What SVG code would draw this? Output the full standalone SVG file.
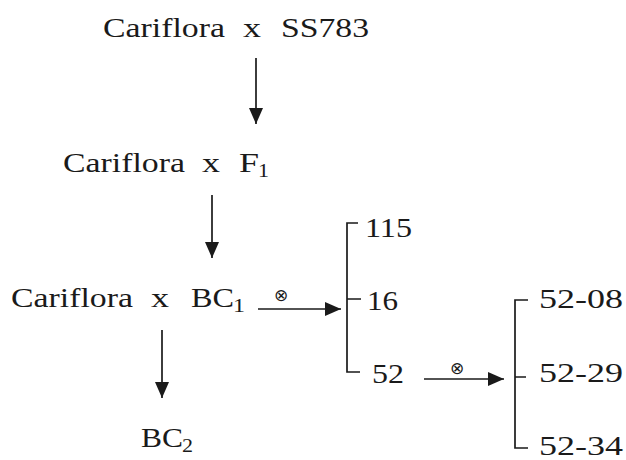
<svg xmlns="http://www.w3.org/2000/svg" width="626" height="460" viewBox="0 0 626 460">
  <style>
    text { font-family: "Liberation Serif", "Times New Roman", Tinos, serif; font-size: 28px; fill: #1a1a1a; }
    text.sub { font-size: 19px; }
    text.self { font-family: "DejaVu Sans", sans-serif; font-size: 17px; text-anchor: middle; }
    .link { stroke: #1a1a1a; stroke-width: 1.7; fill: none; }
  </style>
  <defs>
    <marker id="head" markerUnits="userSpaceOnUse" markerWidth="16" markerHeight="16" viewBox="0 0 16 16" refX="16" refY="8" orient="auto">
      <path d="M0,1 L16,8 L0,15 Z" fill="#1a1a1a"/>
    </marker>
  </defs>
  <rect width="626" height="460" fill="#ffffff"/>

  <g id="cross-ss783">
    <text x="103" y="37" textLength="122" lengthAdjust="spacingAndGlyphs">Cariflora</text>
    <text x="243" y="37" textLength="18" lengthAdjust="spacingAndGlyphs">x</text>
    <text x="281" y="37" textLength="88" lengthAdjust="spacingAndGlyphs">SS783</text>
  </g>
  <g id="cross-f1">
    <text x="63" y="172" textLength="122" lengthAdjust="spacingAndGlyphs">Cariflora</text>
    <text x="202" y="172" textLength="18" lengthAdjust="spacingAndGlyphs">x</text>
    <text x="239" y="172" textLength="20" lengthAdjust="spacingAndGlyphs">F</text>
    <text class="sub" x="258" y="177" textLength="11" lengthAdjust="spacingAndGlyphs">1</text>
  </g>
  <g id="cross-bc1">
    <text x="11" y="307" textLength="122" lengthAdjust="spacingAndGlyphs">Cariflora</text>
    <text x="151" y="307" textLength="18" lengthAdjust="spacingAndGlyphs">x</text>
    <text x="191" y="307" textLength="43" lengthAdjust="spacingAndGlyphs">BC</text>
    <text class="sub" x="233" y="312" textLength="12" lengthAdjust="spacingAndGlyphs">1</text>
  </g>
  <g id="bc2">
    <text x="141" y="447" textLength="42" lengthAdjust="spacingAndGlyphs">BC</text>
    <text class="sub" x="182" y="452" textLength="11" lengthAdjust="spacingAndGlyphs">2</text>
  </g>
  <g id="line-115">
    <text x="365" y="237" textLength="47" lengthAdjust="spacingAndGlyphs">115</text>
  </g>
  <g id="line-16">
    <text x="367" y="310" textLength="31" lengthAdjust="spacingAndGlyphs">16</text>
  </g>
  <g id="line-52">
    <text x="372" y="383" textLength="32" lengthAdjust="spacingAndGlyphs">52</text>
  </g>
  <g id="line-52-08">
    <text x="539" y="308" textLength="84" lengthAdjust="spacingAndGlyphs">52-08</text>
  </g>
  <g id="line-52-29">
    <text x="539" y="382" textLength="84" lengthAdjust="spacingAndGlyphs">52-29</text>
  </g>
  <g id="line-52-34">
    <text x="539" y="455" textLength="84" lengthAdjust="spacingAndGlyphs">52-34</text>
  </g>

  <g id="connectors">
    <!-- backcross generations -->
    <line class="link" x1="256" y1="58" x2="256" y2="124" marker-end="url(#head)"/>
    <line class="link" x1="212" y1="195" x2="212" y2="258" marker-end="url(#head)"/>
    <line class="link" x1="162" y1="330" x2="162" y2="398" marker-end="url(#head)"/>
    <!-- selfing of BC1 -->
    <line class="link" x1="258" y1="309" x2="341" y2="309" marker-end="url(#head)"/>
    <text class="self" x="281" y="301">⊗</text>
    <!-- BC1 selections -->
    <path class="link" d="M358,223 H347 V372 H360 M347,299 H361"/>
    <!-- selfing of line 52 -->
    <line class="link" x1="424" y1="379" x2="504" y2="379" marker-end="url(#head)"/>
    <text class="self" x="457" y="374">⊗</text>
    <!-- line 52 progeny -->
    <path class="link" d="M528,300 H515 V448 H528 M515,377 H526"/>
  </g>
</svg>
